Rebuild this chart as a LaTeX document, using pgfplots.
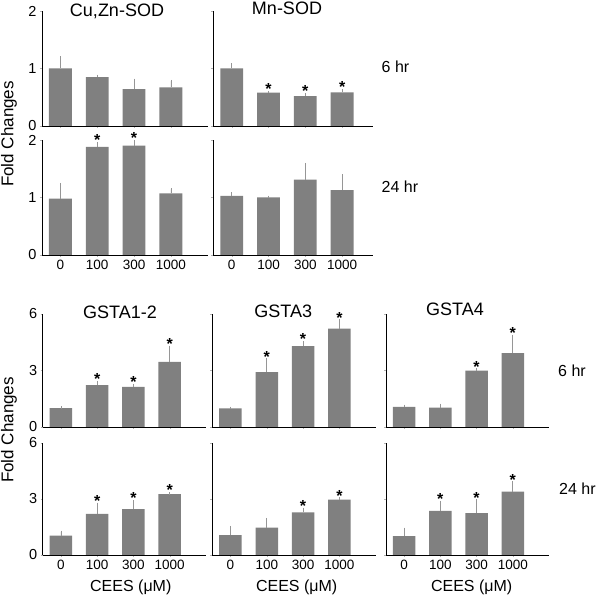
\documentclass[border=0pt]{standalone}
\usepackage{pgfplots}
\pgfplotsset{compat=1.18}
\usepackage{fontspec}
\setmainfont{Liberation Sans}
\definecolor{barc}{RGB}{128,128,128}
\definecolor{errc}{RGB}{150,150,150}
\pgfplotsset{
  panel/.style={
    scale only axis, anchor=south west,
    axis x line=bottom, axis y line=left,
    axis line style={-, line width=0.8pt, black},
    xmin=-0.5, ymin=0,
    xtick={0,1,2,3},
    tick align=outside, major tick length=2pt,
    tick style={gray!60, line width=0.4pt},
    xticklabel style={font=\fontsize{13.5}{13.5}\selectfont},
    yticklabel style={font=\fontsize{14.5}{14.5}\selectfont},
    /pgf/number format/assume math mode=true,
    clip=false,
  },
  bars/.style={ybar, bar width=0.62, fill=barc, draw=none,
    error bars/.cd, y dir=plus, y explicit,
    error bar style={errc, line width=0.6pt},
    error mark options={errc, mark size=1.3pt, line width=0.6pt}},
  stars/.style={draw=none, mark=none, nodes near coords={*},
    every node near coord/.append style={anchor=center, yshift=3pt,
      font=\fontsize{16}{16}\selectfont\bfseries, text=black}},
}
\begin{document}
\begin{tikzpicture}[x=1pt,y=1pt]
\useasboundingbox (0,0) rectangle (597,600);
% ---------- top group ----------
\begin{axis}[panel, at={(42pt,474pt)}, width=165.7pt, height=115pt, xmax=4.0, ymax=2,
  ytick={0,1,2}, xticklabels={}]
\addplot[bars] coordinates {(0,1.00) +- (0,0.19) (1,0.85) +- (0,0.02) (2,0.64) +- (0,0.16) (3,0.67) +- (0,0.11)};
\end{axis}
\begin{axis}[panel, at={(213.3pt,474pt)}, width=159.4pt, height=115pt, xmax=3.83, ymax=2,
  ytick={0,1,2}, yticklabels={}, xticklabels={}]
\addplot[bars] coordinates {(0,1.00) +- (0,0.07) (1,0.58) +- (0,0.01) (2,0.52) +- (0,0.03) (3,0.585) +- (0,0.035)};
\addplot[stars] coordinates {(1,0.59) (2,0.55) (3,0.62)};
\end{axis}
\begin{axis}[panel, at={(42pt,345pt)}, width=165.7pt, height=115pt, xmax=4.0, ymax=2,
  ytick={0,1,2}, xticklabels={0,100,300,1000}]
\addplot[bars] coordinates {(0,0.98) +- (0,0.25) (1,1.88) +- (0,0.06) (2,1.90) +- (0,0.08) (3,1.07) +- (0,0.07)};
\addplot[stars] coordinates {(1,1.94) (2,1.98)};
\end{axis}
\begin{axis}[panel, at={(213.3pt,345pt)}, width=159.4pt, height=115pt, xmax=3.83, ymax=2,
  ytick={0,1,2}, yticklabels={}, xticklabels={0,100,300,1000}]
\addplot[bars] coordinates {(0,1.03) +- (0,0.04) (1,1.00) +- (0,0.01) (2,1.31) +- (0,0.27) (3,1.13) +- (0,0.25)};
\end{axis}
\node[font=\fontsize{18}{18}\selectfont] at (117,589) {Cu,Zn-SOD};
\node[font=\fontsize{18}{18}\selectfont] at (287,591.5) {Mn-SOD};
\node[font=\fontsize{17}{17}\selectfont, rotate=90] at (9,466) {Fold Changes};
\node[font=\fontsize{16}{16}\selectfont, anchor=west, inner sep=0pt] at (381.5,533) {6 hr};
\node[font=\fontsize{16}{16}\selectfont, anchor=west, inner sep=0pt] at (381.5,413.3) {24 hr};
% ---------- bottom group ----------
\begin{axis}[panel, at={(42.7pt,173pt)}, width=163.3pt, height=113pt, xmax=4.0, ymax=6,
  ytick={0,3,6}, xticklabels={}]
\addplot[bars] coordinates {(0,1.00) +- (0,0.02) (1,2.22) +- (0,0.16) (2,2.13) +- (0,0.09) (3,3.46) +- (0,0.79)};
\addplot[stars] coordinates {(1,2.38) (2,2.22) (3,4.25)};
\end{axis}
\begin{axis}[panel, at={(212.3pt,173pt)}, width=163.4pt, height=113pt, xmax=4.0, ymax=6,
  ytick={0,3,6}, yticklabels={}, xticklabels={}]
\addplot[bars] coordinates {(0,0.99) +- (0,0.02) (1,2.92) +- (0,0.66) (2,4.30) +- (0,0.19) (3,5.22) +- (0,0.42)};
\addplot[stars] coordinates {(1,3.58) (2,4.49) (3,5.64)};
\end{axis}
\begin{axis}[panel, at={(386pt,173pt)}, width=163pt, height=113pt, xmax=4.0, ymax=6,
  ytick={0,3,6}, yticklabels={}, xticklabels={}]
\addplot[bars] coordinates {(0,1.07) +- (0,0.05) (1,1.03) +- (0,0.14) (2,3.00) +- (0,0.05) (3,3.92) +- (0,0.91)};
\addplot[stars] coordinates {(2,3.05) (3,4.83)};
\end{axis}
\begin{axis}[panel, at={(42.7pt,45pt)}, width=163.3pt, height=112pt, xmax=4.0, ymax=6,
  ytick={0,3,6}, xticklabels={0,100,300,1000}]
\addplot[bars] coordinates {(0,1.04) +- (0,0.20) (1,2.20) +- (0,0.54) (2,2.46) +- (0,0.41) (3,3.26) +- (0,0.04)};
\addplot[stars] coordinates {(1,2.74) (2,2.87) (3,3.30)};
\end{axis}
\begin{axis}[panel, at={(212.3pt,45pt)}, width=163.4pt, height=112pt, xmax=4.0, ymax=6,
  ytick={0,3,6}, yticklabels={}, xticklabels={0,100,300,1000}]
\addplot[bars] coordinates {(0,1.06) +- (0,0.43) (1,1.47) +- (0,0.45) (2,2.28) +- (0,0.19) (3,2.97) +- (0,0.05)};
\addplot[stars] coordinates {(2,2.47) (3,3.02)};
\end{axis}
\begin{axis}[panel, at={(386pt,45pt)}, width=163pt, height=112pt, xmax=4.0, ymax=6,
  ytick={0,3,6}, yticklabels={}, xticklabels={0,100,300,1000}]
\addplot[bars] coordinates {(0,1.01) +- (0,0.39) (1,2.36) +- (0,0.47) (2,2.25) +- (0,0.66) (3,3.39) +- (0,0.48)};
\addplot[stars] coordinates {(1,2.83) (2,2.91) (3,3.87)};
\end{axis}
\node[font=\fontsize{18}{18}\selectfont] at (120,287.5) {GSTA1-2};
\node[font=\fontsize{18}{18}\selectfont] at (283.3,289) {GSTA3};
\node[font=\fontsize{18}{18}\selectfont] at (455,291) {GSTA4};
\node[font=\fontsize{17}{17}\selectfont, rotate=90] at (9,170) {Fold Changes};
\node[font=\fontsize{16}{16}\selectfont, anchor=west, inner sep=0pt] at (558,229) {6 hr};
\node[font=\fontsize{16}{16}\selectfont, anchor=west, inner sep=0pt] at (559,111) {24 hr};
\node[font=\fontsize{16}{16}\selectfont] at (130.8,13) {CEES (μM)};
\node[font=\fontsize{16}{16}\selectfont] at (296.7,13) {CEES (μM)};
\node[font=\fontsize{16}{16}\selectfont] at (471.7,13) {CEES (μM)};
\end{tikzpicture}
\end{document}
